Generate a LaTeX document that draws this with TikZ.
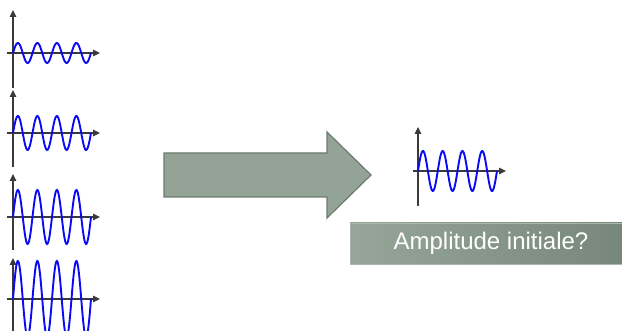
\documentclass[tikz,border=0pt]{standalone}
\usepackage{fontspec}
\setmainfont{Liberation Sans}
\usetikzlibrary{arrows.meta}
\definecolor{axisgray}{HTML}{3A3A3A}
\definecolor{wavblue}{HTML}{0A0AF5}
\definecolor{arrowfill}{HTML}{93A497}
\definecolor{arrowedge}{HTML}{6C7B70}
\definecolor{boxleft}{HTML}{96A699}
\definecolor{boxright}{HTML}{778779}
\tikzset{
  axis/.style={draw=axisgray, line width=1.1pt},
  axistip/.style={axis, -{Triangle[length=7pt,width=6.5pt]}},
  wave/.style={draw=wavblue, line width=1.9pt, smooth, samples=120},
}
% #1 vertical axis x, #2 axis top, #3 axis bottom, #4 horizontal axis y,
% #5 amplitude, #6 horizontal axis left end, #7 its right end, #8 wave end
\newcommand{\sinegraph}[8]{%
  \draw[axistip] (#1,#3) -- (#1,#2);
  \draw[axistip] (#6,#4) -- (#7,#4);
  \pgfmathsetmacro{\wavefreq}{1440/(#8-#1)}
  \draw[wave] plot[domain=#1:#8] (\x,{#4-#5*sin(\wavefreq*(\x-#1))});
}
\begin{document}
\begin{tikzpicture}[x=1pt,y=-1pt]
  \useasboundingbox (0,0) rectangle (622,331);
  \begin{scope}
    \clip (0,0) rectangle (622,331);
    % growing-amplitude signals on the left
    \sinegraph{13}{10}{88}{53}{10}{7}{100}{91}
    \sinegraph{13}{90}{167}{133}{17}{7}{100}{91}
    \sinegraph{13}{174}{250}{217}{27}{7}{100}{91}
    \sinegraph{13}{258}{340}{299}{38}{7}{100}{91}
    % signal on the right
    \sinegraph{418}{127}{206}{171}{20}{413}{506}{497}
  \end{scope}
  % block arrow
  \filldraw[fill=arrowfill, draw=arrowedge, line width=1.2pt, line join=miter]
    (164,153) -- (327,153) -- (327,132) -- (371,175) -- (327,218)
    -- (327,197) -- (164,197) -- cycle;
  % question box
  \path[left color=boxleft, right color=boxright, draw=boxleft!80!white, line width=0.6pt]
    (350,223) rectangle (622,264);
  \node[inner sep=0pt, text=white, font=\fontsize{24}{26}\selectfont] (label) at (491,243.5)
    {Amplitude initiale?};
\end{tikzpicture}
\end{document}
